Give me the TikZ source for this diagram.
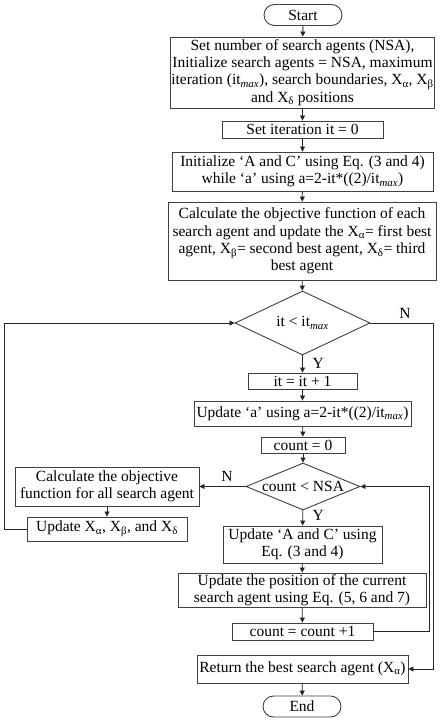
\documentclass[tikz,border=0pt]{standalone}
\usepackage{fontspec}
\setmainfont{Liberation Serif}
\usetikzlibrary{arrows.meta,shapes.geometric,shapes.misc}
\newcommand{\sbs}[1]{\textsubscript{#1}}
\newcommand{\itmax}{it\textsubscript{\textit{max}}}
\begin{document}
\begin{tikzpicture}[x=1pt,y=-1pt,
  txt/.style={font=\fontsize{15.5}{17.3}\selectfont},
  box/.style={txt, draw=black!75, line width=0.9pt, align=center, inner sep=1pt, fill=white},
  term/.style={box, rounded rectangle},
  dec/.style={txt, draw=black!75, line width=0.9pt, diamond, inner sep=0pt},
  conn/.style={draw=black!85, line width=0.8pt, -{Triangle[length=5pt,width=5pt]}},
  wire/.style={draw=black!85, line width=0.8pt}]
\useasboundingbox (0,0) rectangle (447,722);
\fill[white] (0,0) rectangle (447,722);

\node[term, minimum width=80, minimum height=21] (start) at (303,15) {Start};
\node[box, minimum width=261, minimum height=71] (b1) at (302.5,72.5)
  {Set number of search agents (NSA),\\ Initialize search agents = NSA, maximum\\ iteration (\itmax), search boundaries, X\sbs{α}, X\sbs{β}\\ and X\sbs{δ} positions};
\node[box, minimum width=161, minimum height=17] (setit) at (302.5,129.5) {Set iteration it = 0};
\node[box, minimum width=261, minimum height=39] (init) at (302.5,171.5)
  {Initialize ‘A and C’ using Eq. (3 and 4)\\ while ‘a’ using a=2-it*((2)/\itmax)};
\node[box, minimum width=268, minimum height=78] (calc) at (302,241)
  {Calculate the objective function of each\\ search agent and update the X\sbs{α}= first best\\ agent, X\sbs{β}= second best agent, X\sbs{δ}= third\\ best agent};
\node[dec, minimum width=135, minimum height=64, aspect=2.1] (d1) at (302.5,323) {it < \itmax};
\node[box, minimum width=109, minimum height=16] (inc) at (302.5,381) {it = it + 1};
\node[box, minimum width=217, minimum height=25] (upda) at (302.5,413.5) {Update ‘a’ using a=2-it*((2)/\itmax)};
\node[box, minimum width=84, minimum height=16] (cnt0) at (303,445) {count = 0};
\node[dec, minimum width=114, minimum height=47, aspect=2.43] (d2) at (303,486.5) {count < NSA};
\node[box, minimum width=184, minimum height=39] (calcall) at (107,486.5)
  {Calculate the objective\\ function for all search agent};
\node[box, minimum width=160, minimum height=24] (updx) at (107,529) {Update X\sbs{α}, X\sbs{β}, and X\sbs{δ}};
\node[box, minimum width=159, minimum height=37] (updac) at (302.5,544.5) {Update ‘A and C’ using\\ Eq. (3 and 4)};
\node[box, minimum width=248, minimum height=34] (updpos) at (302,590)
  {Update the position of the current\\ search agent using Eq. (5, 6 and 7)};
\node[box, minimum width=141, minimum height=17] (cntinc) at (302.5,631.5) {count = count +1};
\node[box, minimum width=211, minimum height=28] (ret) at (302.5,669) {Return the best search agent (X\sbs{α})};
\node[term, minimum width=80, minimum height=21] (end) at (302,706.5) {End};

\coordinate (nr1) at (433,323);
\coordinate (nr2) at (433,669);
\coordinate (lp1) at (4,529);
\coordinate (lp2) at (4,323);
\coordinate (rp1) at (429,631.5);
\coordinate (rp2) at (429,486.5);

\draw[conn] (start) -- (b1);
\draw[conn] (b1) -- (setit);
\draw[conn] (setit) -- (init);
\draw[conn] (init) -- (calc);
\draw[conn] (calc) -- (d1);
\draw[conn] (d1) -- (inc);
\draw[conn] (inc) -- (upda);
\draw[conn] (upda) -- (cnt0);
\draw[conn] (cnt0) -- (d2);
\draw[conn] (d2) -- (updac);
\draw[conn] (updac) -- (updpos);
\draw[conn] (updpos) -- (cntinc);
\draw[conn] (ret) -- (end);
\draw[conn] (calcall) -- (updx);
\draw[conn] (d2.west) -- (calcall.east);
\draw[conn] (d1.east) -- (nr1) -- (nr2) -- (ret.east);
\draw[conn] (updx.west) -- (lp1) -- (lp2) -- (d1.west);
\draw[conn] (cntinc.east) -- (rp1) -- (rp2) -- (d2.east);

\node[txt, anchor=west] (y1) at (309,363) {Y};
\node[txt, anchor=west] (y2) at (309,515) {Y};
\node[txt] (n1) at (405,313) {N};
\node[txt] (n2) at (227,476) {N};
\end{tikzpicture}
\end{document}
